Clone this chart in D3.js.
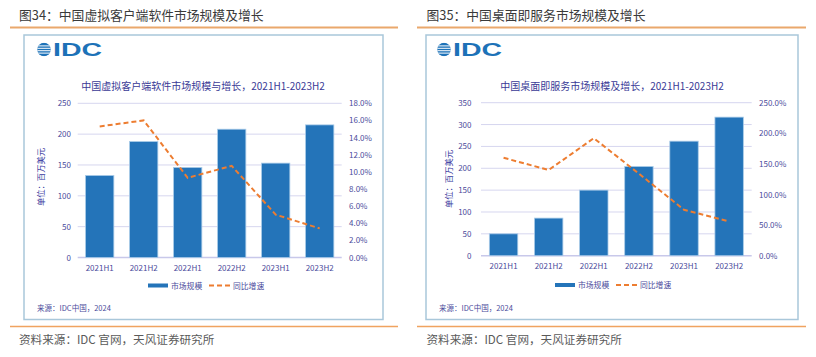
<!DOCTYPE html>
<html><head><meta charset="utf-8">
<script src="https://cdn.jsdelivr.net/npm/d3@7/dist/d3.min.js"></script>
<style>
html,body{margin:0;padding:0;background:#fff;}
svg{display:block;font-family:"Noto Sans CJK SC","Noto Sans",sans-serif;}
</style></head>
<body>
<svg id="c" width="816" height="357"></svg>
<script>
// ---- data ----
const categories = ["2021H1","2021H2","2022H1","2022H2","2023H1","2023H2"];
const p1Market = [133, 188, 146, 208, 153, 215];
const p1Growth = [15.3, 16.0, 9.3, 10.7, 5.0, 3.4];
const p1LeftTicks = [0, 50, 100, 150, 200, 250];
const p1RightTicks = [0, 2, 4, 6, 8, 10, 12, 14, 16, 18];
const p2Market = [50, 86, 150, 204, 262, 317];
const p2Growth = [160, 140, 192, 134, 75, 56];
const p2LeftTicks = [0, 50, 100, 150, 200, 250, 300, 350];
const p2RightTicks = [0, 50, 100, 150, 200, 250];
const seriesNames = ["市场规模", "同比增速"];

const svg = d3.select("#c");
const BAR = "#2474b9", LINE = "#ed7d31", GRID = "#d6d6ef", TXT = "#4b4b9b";

function logo(g, x, y) {
  const r = 6.8, cx = x + 7, cy = y + 6.5;
  const id = "clip" + Math.round(x);
  g.append("clipPath").attr("id", id).append("circle").attr("cx", cx).attr("cy", cy).attr("r", r);
  const lg = g.append("g").attr("clip-path", `url(#${id})`);
  lg.append("rect").attr("x", cx - r).attr("y", cy - r).attr("width", 2 * r).attr("height", 2 * r).attr("fill", "#1d72b8");
  [-3.6, -1.2, 1.2, 3.6].forEach(d => lg.append("rect").attr("x", cx - r).attr("y", cy + d - 0.5).attr("width", 2 * r).attr("height", 1).attr("fill", "#fff"));
  g.append("text").attr("x", x + 16).attr("y", y + 13).attr("font-family", "Liberation Sans, Arial, sans-serif")
    .attr("font-weight", "bold").attr("font-size", 18).attr("fill", "#1d72b8")
    .attr("textLength", 49).attr("lengthAdjust", "spacingAndGlyphs").text("IDC");
}

function panel(cfg) {
  const g = svg.append("g");
  // heading
  g.append("text").attr("x", cfg.hx).attr("y", 20).attr("font-size", 12.8).attr("fill", "#3a3a3a").text(cfg.heading);
  g.append("line").attr("x1", cfg.ox1).attr("x2", cfg.ox2).attr("y1", 27.5).attr("y2", 27.5).attr("stroke", "#eaa86c").attr("stroke-width", 2);
  g.append("line").attr("x1", cfg.ox1).attr("x2", cfg.ox2).attr("y1", 326.5).attr("y2", 326.5).attr("stroke", "#f0a360").attr("stroke-width", 1.5);
  g.append("text").attr("x", cfg.hx).attr("y", 344).attr("font-size", 11.6).attr("fill", "#5a5a5a").text("资料来源：IDC 官网，天风证券研究所");
  // frame
  g.append("rect").attr("x", cfg.fx1).attr("y", 35).attr("width", cfg.fx2 - cfg.fx1).attr("height", 284.5)
    .attr("fill", "#fff").attr("stroke", "#a9c7da").attr("stroke-width", 1.5);
  logo(g, cfg.logoX, 43);
  // chart title
  g.append("text").attr("x", cfg.titleX).attr("y", 89.5).attr("text-anchor", "middle").attr("font-size", 10)
    .attr("fill", "#3a3a96").text(cfg.title);

  const x = d3.scaleBand().domain(categories).range([cfg.px1, cfg.px2]).paddingInner(cfg.pad).paddingOuter(cfg.pad / 2);
  const y = d3.scaleLinear().domain([0, d3.max(cfg.leftTicks)]).range([cfg.y0, cfg.yTop]);
  const y2 = d3.scaleLinear().domain([0, d3.max(cfg.rightTicks)]).range([cfg.y0, cfg.yTop]);

  // grid
  g.append("g").selectAll("line").data(cfg.leftTicks).join("line")
    .attr("x1", cfg.px1).attr("x2", cfg.px2).attr("y1", d => y(d)).attr("y2", d => y(d))
    .attr("stroke", d => d === 0 ? "#c8c8ea" : GRID).attr("stroke-width", d => d === 0 ? 1.6 : 1);

  // left axis
  const la = g.append("g").attr("transform", `translate(${cfg.lx},0)`)
    .call(d3.axisLeft(y).tickValues(cfg.leftTicks).tickSize(0).tickPadding(0));
  la.select(".domain").remove();
  la.selectAll("text").attr("font-size", 8).attr("fill", TXT).attr("font-family", "Noto Sans CJK SC");
  // right axis
  const ra = g.append("g").attr("transform", `translate(${cfg.rx},0)`)
    .call(d3.axisRight(y2).tickValues(cfg.rightTicks).tickSize(0).tickPadding(0).tickFormat(d => d.toFixed(1) + "%"));
  ra.select(".domain").remove();
  ra.selectAll("text").attr("font-size", 8).attr("fill", TXT).attr("font-family", "Noto Sans CJK SC");
  // bottom axis
  const ba = g.append("g").attr("transform", `translate(0,${cfg.y0})`)
    .call(d3.axisBottom(x).tickSize(0).tickPadding(8));
  ba.select(".domain").remove();
  ba.selectAll("text").attr("font-size", 8).attr("fill", TXT).attr("font-family", "Noto Sans CJK SC");

  // y label
  g.append("text").attr("transform", `translate(${cfg.ylx},${cfg.yly}) rotate(-90)`).attr("text-anchor", "middle")
    .attr("font-size", 8.3).attr("fill", "#3a3aa0").text("单位：百万美元");

  // bars
  g.append("g").selectAll("rect").data(cfg.market).join("rect")
    .attr("x", (d, i) => x(categories[i])).attr("width", x.bandwidth())
    .attr("y", d => y(d)).attr("height", d => cfg.y0 - y(d))
    .attr("fill", BAR).attr("stroke", "#a9cbe8").attr("stroke-width", 0.8);

  // line
  const line = d3.line().x((d, i) => x(categories[i]) + x.bandwidth() / 2).y(d => y2(d));
  g.append("path").datum(cfg.growth).attr("d", line).attr("fill", "none")
    .attr("stroke", LINE).attr("stroke-width", 2).attr("stroke-dasharray", "5,3");

  // legend
  const lg = g.append("g");
  lg.append("rect").attr("x", cfg.legX).attr("y", cfg.legY - 2).attr("width", 20).attr("height", 4).attr("fill", BAR);
  lg.append("text").attr("x", cfg.legX + 23).attr("y", cfg.legY + 3).attr("font-size", 7.8).attr("fill", TXT).text(seriesNames[0]);
  lg.append("line").attr("x1", cfg.legX + 61).attr("x2", cfg.legX + 83).attr("y1", cfg.legY).attr("y2", cfg.legY)
    .attr("stroke", LINE).attr("stroke-width", 2).attr("stroke-dasharray", "5,3");
  lg.append("text").attr("x", cfg.legX + 85).attr("y", cfg.legY + 3).attr("font-size", 7.8).attr("fill", TXT).text(seriesNames[1]);

  // source
  g.append("text").attr("x", cfg.srcX).attr("y", 311).attr("font-size", 7.5).attr("fill", TXT).text("来源：IDC中国，2024");
}

panel({
  heading: "图34：中国虚拟客户端软件市场规模及增长", hx: 19, ox1: 10, ox2: 398, fx1: 24, fx2: 383, logoX: 37,
  title: "中国虚拟客户端软件市场规模与增长，2021H1-2023H2", titleX: 203,
  px1: 77.7, px2: 341.7, pad: 0.357, y0: 257.5, yTop: 103.3, lx: 71, rx: 349,
  leftTicks: p1LeftTicks, rightTicks: p1RightTicks, market: p1Market, growth: p1Growth,
  ylx: 44, yly: 177, legX: 148, legY: 285.5, srcX: 37
});
panel({
  heading: "图35：中国桌面即服务市场规模及增长", hx: 426.5, ox1: 417, ox2: 806, fx1: 426, fx2: 798, logoX: 437,
  title: "中国桌面即服务市场规模及增长，2021H1-2023H2", titleX: 612,
  px1: 481, px2: 751.7, pad: 0.37, y0: 255.7, yTop: 102.7, lx: 471.5, rx: 759,
  leftTicks: p2LeftTicks, rightTicks: p2RightTicks, market: p2Market, growth: p2Growth,
  ylx: 452, yly: 179, legX: 555, legY: 285, srcX: 439
});
</script>
</body></html>
